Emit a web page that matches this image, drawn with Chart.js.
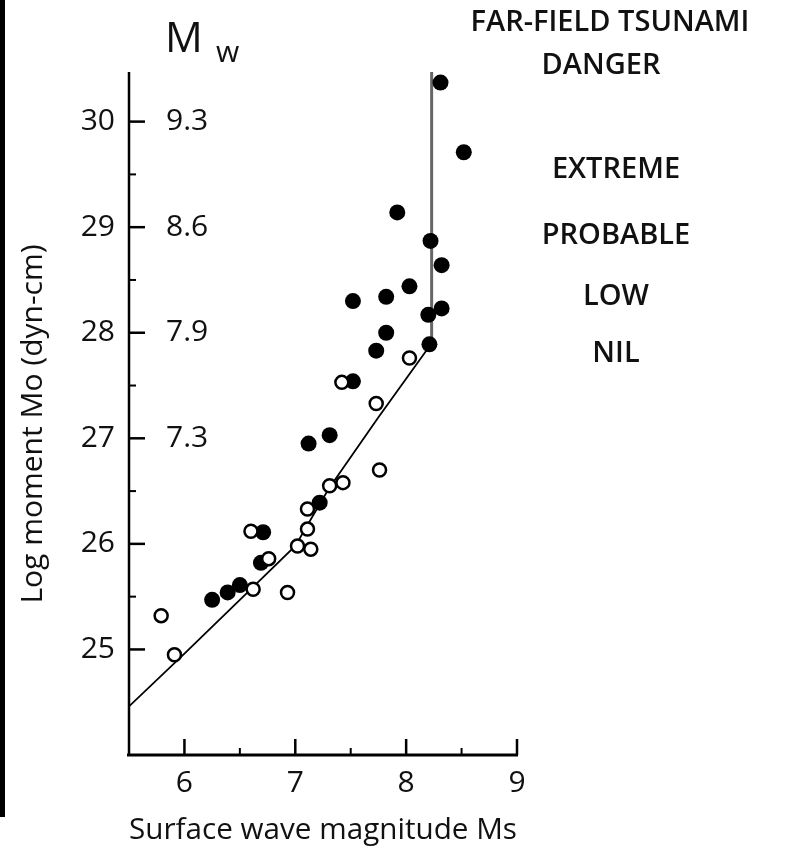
<!DOCTYPE html>
<html>
<head>
<meta charset="utf-8">
<script src="https://cdn.jsdelivr.net/npm/chart.js@4/dist/chart.umd.min.js"></script>
<style>
  html, body { margin: 0; padding: 0; background: #fff; }
  #wrap { position: relative; width: 785px; height: 856px; }
  #bar { position: absolute; left: 0; top: 0; width: 5px; height: 817px; background: #000; }
</style>
</head>
<body>
<div id="wrap">
  <canvas id="c" width="785" height="856"></canvas>
  <div id="bar"></div>
</div>
<script>
// ---- data ----
const xTickValues = [6, 7, 8, 9];
const xMinorTicks = [6.5, 7.5, 8.5];
const yTickValues = [25, 26, 27, 28, 29, 30];
const yMinorTicks = [25.5, 26.5, 27.5, 28.5, 29.5];
const mwValues = [30, 29, 28, 27];
const mwLabels = ['9.3', '8.6', '7.9', '7.3'];

// filled circles (Ms, log Mo)
const filledMs = [8.31, 8.52, 7.92, 8.22, 8.32, 8.03, 7.82, 7.52, 8.20, 8.32, 7.82, 8.21, 7.73, 7.52, 7.31, 7.12, 7.22, 6.71, 6.69, 6.50, 6.39, 6.25];
const filledMo = [30.37, 29.71, 29.14, 28.87, 28.64, 28.44, 28.34, 28.30, 28.17, 28.23, 28.00, 27.89, 27.83, 27.54, 27.03, 26.95, 26.39, 26.11, 25.82, 25.61, 25.54, 25.47];

// open circles (Ms, log Mo)
const openMs = [8.03, 7.42, 7.73, 7.76, 7.43, 7.31, 7.11, 7.11, 7.02, 7.14, 6.60, 6.76, 6.62, 6.93, 5.79, 5.91];
const openMo = [27.76, 27.53, 27.33, 26.70, 26.58, 26.55, 26.33, 26.14, 25.98, 25.95, 26.12, 25.86, 25.57, 25.54, 25.32, 24.95];

// Ms-Mo relation curve
const curveMs = [5.5, 6.0, 6.5, 7.0, 7.3, 7.75, 8.23];
const curveMo = [24.46, 24.96, 25.47, 25.98, 26.52, 27.2, 27.9];

// vertical limit line
const limitMs = [8.23, 8.23];
const limitMo = [27.9, 30.47];

const dangerTitle = ['FAR-FIELD TSUNAMI', 'DANGER'];
const dangerLevels = ['EXTREME', 'PROBABLE', 'LOW', 'NIL'];

const xTitle = 'Surface wave magnitude Ms';
const yTitle = 'Log moment Mo (dyn-cm)';

// ---- build ----
const zip = (a, b) => a.map((v, i) => ({ x: v, y: b[i] }));
const FONT = '"Open Sans", "DejaVu Sans", sans-serif';
const INK = '#111';

const decor = {
  id: 'decor',
  afterDraw(chart) {
    const ctx = chart.ctx;
    const xs = chart.scales.x, ys = chart.scales.y;
    const ca = chart.chartArea;
    const L = Math.round(ca.left), B = Math.round(ca.bottom);
    ctx.save();
    ctx.fillStyle = '#000';
    // axis lines
    ctx.fillRect(L - 1.25, ca.top, 2.5, B - ca.top);
    ctx.fillRect(L - 2, B - 1.5, ca.right - L + 3, 3);
    // y ticks (inside, to the right)
    yTickValues.forEach(v => { const p = ys.getPixelForValue(v); ctx.fillRect(L, p - 1.25, 16, 2.5); });
    yMinorTicks.forEach(v => { const p = ys.getPixelForValue(v); ctx.fillRect(L, p - 1, 7, 2); });
    // x ticks (inside, upward)
    xTickValues.forEach(v => { const p = xs.getPixelForValue(v); ctx.fillRect(p - 1.25, B - 16, 2.5, 16); });
    xMinorTicks.forEach(v => { const p = xs.getPixelForValue(v); ctx.fillRect(p - 1, B - 7, 2, 7); });

    ctx.fillStyle = INK;
    // Mw secondary labels
    ctx.font = '30px ' + FONT;
    ctx.textAlign = 'left';
    ctx.textBaseline = 'middle';
    mwValues.forEach((v, i) => {
      ctx.fillText(mwLabels[i], 166, ys.getPixelForValue(v));
    });
    // Mw header
    ctx.font = '42px ' + FONT;
    ctx.textBaseline = 'alphabetic';
    ctx.fillText('M', 165, 52);
    ctx.font = '30px ' + FONT;
    ctx.fillText('w', 216, 62);

    // y axis title
    ctx.save();
    ctx.translate(33, 424);
    ctx.rotate(-Math.PI / 2);
    ctx.font = '30px ' + FONT;
    ctx.textAlign = 'center';
    ctx.textBaseline = 'middle';
    ctx.fillText(yTitle, 0, 0);
    ctx.restore();

    // right-side danger annotations
    ctx.font = '600 29px ' + FONT;
    ctx.textAlign = 'center';
    ctx.textBaseline = 'middle';
    ctx.fillText(dangerTitle[0], 610, 23);
    ctx.fillText(dangerTitle[1], 601, 66);
    const lvY = [170, 236, 297, 354];
    dangerLevels.forEach((t, i) => ctx.fillText(t, 616, lvY[i]));
    ctx.restore();
  }
};

new Chart(document.getElementById('c'), {
  type: 'scatter',
  data: {
    datasets: [
      {
        label: 'curve', data: zip(curveMs, curveMo), showLine: true,
        borderColor: '#000', borderWidth: 1.8, pointRadius: 0, tension: 0, order: 3
      },
      {
        label: 'limit', data: zip(limitMs, limitMo), showLine: true,
        borderColor: '#666', borderWidth: 3, pointRadius: 0, order: 3
      },
      {
        label: 'filled', data: zip(filledMs, filledMo),
        pointRadius: 8, pointBackgroundColor: '#000', pointBorderColor: '#000', pointBorderWidth: 0, order: 2
      },
      {
        label: 'open', data: zip(openMs, openMo),
        pointRadius: 6.5, pointBackgroundColor: '#fff', pointBorderColor: '#000', pointBorderWidth: 2.5, order: 1
      }
    ]
  },
  options: {
    responsive: false,
    animation: false,
    events: [],
    layout: { padding: { left: 0, top: 72, right: 268, bottom: 0 } },
    plugins: { legend: { display: false }, tooltip: { enabled: false } },
    scales: {
      x: {
        type: 'linear', min: 5.5, max: 9,
        afterBuildTicks: s => { s.ticks = xTickValues.map(v => ({ value: v })); },
        afterFit: s => { s.height = 101; },
        grid: { display: false, drawTicks: false },
        border: { display: false },
        ticks: { color: INK, font: { family: FONT, size: 30 }, padding: 10, maxRotation: 0 },
        title: { display: true, text: xTitle, color: INK, font: { family: FONT, size: 30 }, padding: { top: 0, bottom: 8 } }
      },
      y: {
        type: 'linear', min: 24, max: 30.47,
        afterBuildTicks: s => { s.ticks = yTickValues.map(v => ({ value: v })); },
        afterFit: s => { s.width = 129; },
        grid: { display: false, drawTicks: false },
        border: { display: false },
        ticks: { color: INK, font: { family: FONT, size: 30 }, padding: 14 }
      }
    }
  },
  plugins: [decor]
});
</script>
</body>
</html>
